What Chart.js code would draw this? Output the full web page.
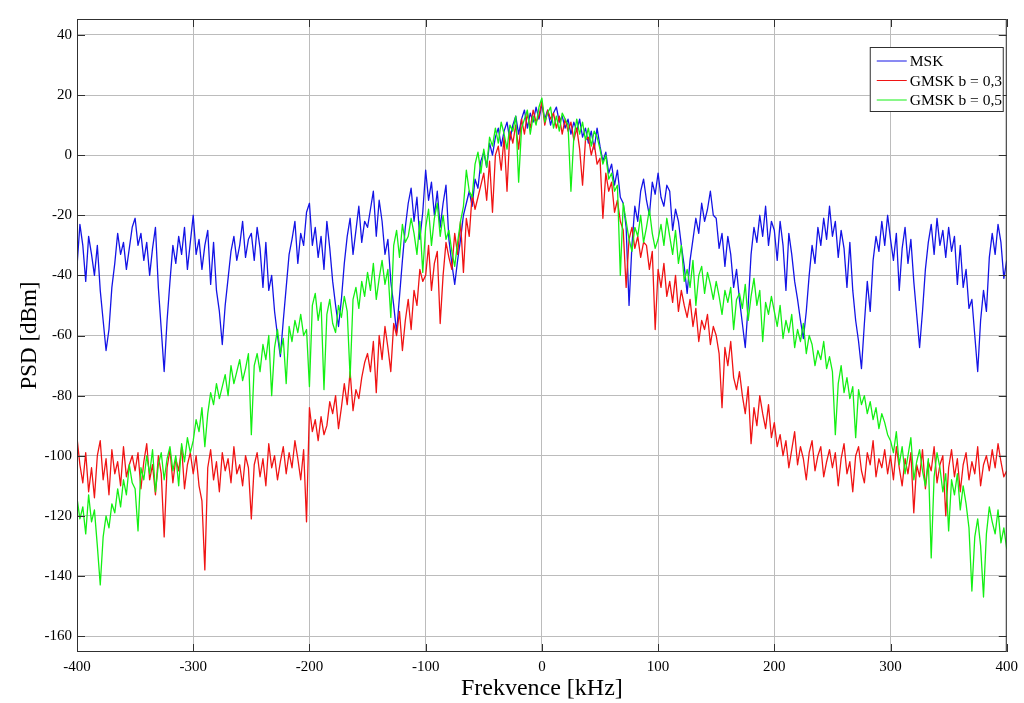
<!DOCTYPE html>
<html>
<head>
<meta charset="utf-8">
<script src="https://cdn.jsdelivr.net/npm/chart.js@4.4.1/dist/chart.umd.min.js"></script>
<style>
  html, body { margin: 0; padding: 0; background: #fff; }
</style>
</head>
<body>
<canvas id="psd" width="1024" height="703"></canvas>
<script>
// frequency grid: -400 .. 400 kHz, one sample every 2.5 kHz
const FREQ_START = -400;
const FREQ_STEP = 2.5;

const xTicks = [-400, -300, -200, -100, 0, 100, 200, 300, 400];
const yTicks = [-160, -140, -120, -100, -80, -60, -40, -20, 0, 20, 40];

const seriesNames = ['MSK', 'GMSK b = 0,3', 'GMSK b = 0,5'];

// PSD [dBm], 20 samples (50 kHz) per row
const msk = [
  -37,-23,-30,-42,-27,-33,-40,-30,-45,-55,-65,-58,-44,-36,-26,-33,-29,-38,-31,-24,
  -21,-30,-26,-35,-29,-40,-31,-24,-44,-58,-72,-55,-42,-30,-36,-27,-33,-24,-38,-29,
  -20,-33,-28,-38,-30,-25,-43,-29,-45,-52,-63,-50,-41,-32,-27,-35,-30,-22,-34,-28,
  -26,-35,-24,-31,-44,-29,-45,-40,-52,-60,-67,-55,-44,-33,-28,-22,-36,-26,-30,-19,
  -16,-30,-24,-34,-27,-38,-22,-31,-42,-50,-57,-48,-36,-27,-21,-33,-25,-17,-29,-22,
  -24,-18,-12,-27,-15,-22,-33,-28,-42,-50,-59,-47,-35,-24,-16,-11,-22,-14,-28,-19,
  -5,-15,-9,-20,-12,-24,-16,-10,-28,-36,-43,-35,-28,-20,-16,-12,-17,-8,-11,-2,
  1,-4,4,0,6,9,3,8,11,5,10,13,7,12,15,9,14,11,16,12,
  17,12,15,10,14,16,11,13,9,12,7,11,8,12,6,9,4,8,2,9,
  3,-2,1,-6,-3,-10,-5,-14,-16,-24,-50,-30,-17,-22,-12,-8,-15,-20,-9,-13,
  -6,-14,-17,-10,-12,-25,-18,-22,-30,-37,-46,-35,-28,-21,-26,-16,-22,-18,-12,-20,
  -21,-31,-26,-37,-27,-33,-44,-38,-48,-56,-64,-50,-33,-24,-29,-20,-27,-17,-30,-22,
  -25,-35,-22,-30,-45,-26,-33,-42,-48,-55,-61,-52,-40,-30,-36,-24,-30,-21,-28,-17,
  -27,-22,-34,-25,-31,-44,-29,-45,-55,-62,-71,-56,-42,-52,-35,-27,-32,-22,-30,-20,
  -28,-35,-26,-45,-31,-24,-36,-28,-42,-53,-64,-52,-38,-29,-23,-33,-21,-30,-25,-34,
  -24,-32,-27,-43,-30,-44,-38,-51,-48,-60,-72,-55,-45,-52,-34,-26,-33,-23,-29,-41,
  -35
];

const gmsk03 = [
  -94,-103,-109,-99,-112,-104,-114,-100,-95,-108,-101,-113,-98,-106,-102,-110,-97,-107,-103,-100,
  -105,-99,-111,-102,-96,-108,-103,-113,-100,-106,-127,-104,-98,-109,-101,-105,-97,-111,-103,-99,
  -106,-100,-110,-115,-138,-104,-98,-108,-102,-112,-99,-105,-101,-109,-97,-106,-103,-110,-100,-104,
  -121,-103,-99,-107,-101,-110,-96,-104,-100,-108,-102,-97,-106,-99,-104,-95,-101,-108,-98,-122,
  -84,-92,-88,-95,-87,-93,-90,-82,-86,-80,-91,-84,-76,-83,-72,-85,-78,-81,-74,-69,
  -66,-72,-62,-79,-60,-68,-57,-64,-72,-56,-60,-52,-65,-55,-48,-58,-45,-50,-38,-42,
  -40,-30,-45,-36,-32,-56,-40,-29,-34,-38,-26,-33,-22,-39,-21,-27,-13,-18,-14,-10,
  -6,-15,-2,-19,0,3,-5,6,-12,8,4,10,2,12,7,14,9,15,11,13,
  18,10,15,12,14,9,13,7,12,8,11,5,9,2,-10,5,6,0,4,-3,
  -1,-21,-6,-12,-9,-19,-15,-22,-25,-44,-28,-24,-31,-27,-34,-29,-30,-38,-32,-58,
  -38,-44,-36,-47,-42,-49,-40,-52,-45,-50,-54,-48,-57,-51,-62,-55,-58,-53,-63,-57,
  -60,-66,-84,-64,-70,-62,-74,-78,-72,-80,-86,-77,-96,-84,-90,-80,-86,-91,-83,-94,
  -89,-97,-93,-100,-95,-104,-98,-92,-103,-97,-101,-108,-99,-95,-105,-100,-97,-107,-102,-98,
  -104,-99,-110,-101,-96,-106,-102,-112,-100,-97,-105,-109,-99,-103,-95,-107,-101,-104,-98,-106,
  -100,-108,-97,-104,-110,-101,-106,-99,-119,-103,-107,-98,-111,-102,-105,-97,-109,-103,-100,-120,
  -104,-98,-107,-101,-112,-103,-99,-108,-102,-106,-97,-110,-103,-100,-105,-98,-104,-96,-102,-107,
  -105
];

const gmsk05 = [
  -114,-121,-117,-126,-113,-122,-118,-130,-143,-127,-120,-124,-116,-119,-111,-117,-108,-113,-103,-109,
  -111,-125,-104,-108,-100,-106,-98,-112,-103,-99,-108,-101,-97,-105,-100,-110,-96,-102,-94,-99,
  -95,-88,-92,-84,-97,-86,-79,-83,-76,-81,-77,-73,-80,-70,-76,-72,-68,-75,-71,-66,
  -93,-70,-66,-72,-63,-68,-60,-80,-64,-58,-66,-61,-76,-57,-62,-55,-59,-53,-60,-58,
  -77,-50,-46,-55,-49,-78,-53,-48,-56,-59,-50,-54,-47,-52,-74,-48,-44,-51,-42,-47,
  -39,-45,-36,-48,-41,-35,-43,-38,-54,-30,-25,-34,-23,-29,-27,-21,-26,-33,-22,-39,
  -24,-18,-30,-21,-16,-27,-20,-28,-25,-32,-37,-29,-22,-17,-5,-12,-14,-3,1,-6,
  2,-4,6,3,9,4,11,7,2,10,8,13,-9,9,12,15,7,13,10,16,
  19,11,14,16,9,13,8,14,12,10,-12,6,12,7,11,5,9,3,8,6,
  2,-3,0,-8,-6,-12,-10,-40,-16,-22,-28,-32,-24,-27,-20,-29,-24,-18,-26,-31,
  -28,-23,-30,-21,-27,-33,-25,-36,-30,-42,-38,-44,-35,-50,-40,-37,-46,-39,-43,-48,
  -42,-47,-53,-45,-49,-44,-58,-48,-46,-51,-43,-55,-47,-41,-50,-45,-62,-49,-53,-47,
  -52,-57,-50,-61,-55,-59,-53,-64,-58,-62,-56,-66,-60,-63,-70,-65,-68,-62,-71,-67,
  -72,-93,-76,-70,-79,-74,-81,-77,-94,-78,-83,-80,-86,-82,-88,-84,-91,-86,-89,-93,
  -95,-99,-92,-103,-97,-106,-100,-94,-108,-102,-98,-105,-110,-101,-134,-107,-99,-104,-112,-106,
  -125,-108,-113,-106,-118,-110,-116,-124,-145,-127,-121,-130,-147,-126,-117,-122,-126,-118,-129,-124,
  -131
];

const seriesColors = ['#1414e6', '#f01414', '#14f014'];

const freq = msk.map((_, i) => FREQ_START + i * FREQ_STEP);
const toPoints = vals => vals.map((v, i) => ({ x: freq[i], y: v }));

const serif = "'Liberation Serif', 'Times New Roman', serif";

// frame, inner tick marks and the boxed legend, drawn over the plot
const framePlugin = {
  id: 'frame',
  afterDatasetsDraw(chart) {
    const { ctx, chartArea: a, scales: { x, y } } = chart;
    ctx.save();
    ctx.strokeStyle = '#303030';
    ctx.lineWidth = 1;
    ctx.beginPath();
    yTicks.forEach(v => {
      const py = Math.round(y.getPixelForValue(v)) + 0.5;
      ctx.moveTo(a.left, py); ctx.lineTo(a.left + 8, py);
      ctx.moveTo(a.right, py); ctx.lineTo(a.right - 8, py);
    });
    xTicks.forEach(v => {
      const px = Math.round(x.getPixelForValue(v)) + 0.5;
      ctx.moveTo(px, a.bottom); ctx.lineTo(px, a.bottom - 8);
      ctx.moveTo(px, a.top); ctx.lineTo(px, a.top + 8);
    });
    ctx.stroke();
    ctx.strokeRect(a.left + 0.5, a.top + 0.5, a.right - a.left - 1, a.bottom - a.top - 1);

    // legend
    const bx = a.right - 137, by = a.top + 28, bw = 133, bh = 64;
    ctx.fillStyle = '#fff';
    ctx.fillRect(bx, by, bw, bh);
    ctx.strokeRect(bx + 0.5, by + 0.5, bw, bh);
    ctx.font = '15.5px ' + serif;
    ctx.textBaseline = 'middle';
    chart.data.datasets.forEach((ds, i) => {
      const ly = by + 14 + i * 19.5;
      ctx.strokeStyle = ds.borderColor;
      ctx.beginPath();
      ctx.moveTo(bx + 7, ly);
      ctx.lineTo(bx + 37, ly);
      ctx.stroke();
      ctx.fillStyle = '#000';
      ctx.fillText(ds.label, bx + 40, ly + 1);
    });
    ctx.restore();
  }
};

new Chart(document.getElementById('psd'), {
  type: 'line',
  data: {
    datasets: [
      { label: seriesNames[0], data: toPoints(msk), borderColor: seriesColors[0], order: 3 },
      { label: seriesNames[1], data: toPoints(gmsk03), borderColor: seriesColors[1], order: 2 },
      { label: seriesNames[2], data: toPoints(gmsk05), borderColor: seriesColors[2], order: 1 }
    ]
  },
  options: {
    responsive: false,
    animation: false,
    events: [],
    layout: { padding: { top: 19, right: 17, left: 0, bottom: 0 } },
    elements: {
      point: { radius: 0 },
      line: { borderWidth: 1.3, tension: 0, borderJoinStyle: 'round' }
    },
    plugins: {
      legend: { display: false },
      tooltip: { enabled: false }
    },
    scales: {
      x: {
        type: 'linear',
        min: -400,
        max: 400,
        afterBuildTicks: s => { s.ticks = xTicks.map(v => ({ value: v })); },
        afterFit: s => { s.height = 51; },
        grid: { color: '#bcbcbc', drawTicks: false },
        border: { display: false },
        ticks: {
          padding: 6,
          color: '#000',
          font: { family: serif, size: 15 },
          maxRotation: 0,
          callback: v => String(v)
        },
        title: {
          display: true,
          text: 'Frekvence [kHz]',
          color: '#000',
          font: { family: serif, size: 24 },
          padding: { top: 0, bottom: 0 }
        }
      },
      y: {
        min: -165.3,
        max: 45.3,
        afterBuildTicks: s => { s.ticks = yTicks.map(v => ({ value: v })); },
        afterFit: s => { s.width = 77; },
        grid: { color: '#bcbcbc', drawTicks: false },
        border: { display: false },
        ticks: {
          padding: 5,
          color: '#000',
          font: { family: serif, size: 15 },
          callback: v => String(v)
        },
        title: {
          display: true,
          text: 'PSD [dBm]',
          color: '#000',
          font: { family: serif, size: 23 },
          padding: { top: 16, bottom: 0 }
        }
      }
    }
  },
  plugins: [framePlugin]
});
</script>
</body>
</html>
